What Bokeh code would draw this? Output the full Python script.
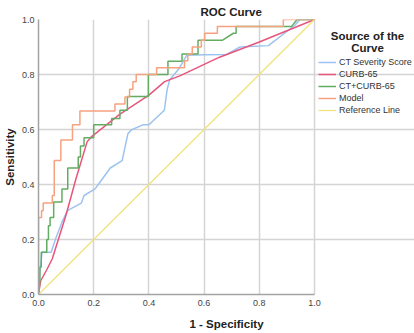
from bokeh.plotting import figure
from bokeh.models import Range1d, FixedTicker, Legend, LegendItem, Label
from bokeh.embed import file_html
from bokeh.resources import INLINE

# ---- data ----
tick_values = [0.0, 0.2, 0.4, 0.6, 0.8, 1.0]
tick_labels = ["0.0", "0.2", "0.4", "0.6", "0.8", "1.0"]

series_names = ["CT Severity Score", "CURB-65", "CT+CURB-65", "Model", "Reference Line"]

ct_fpr = [0, 0.005, 0.013, 0.046, 0.061, 0.085, 0.105, 0.155, 0.165, 0.205, 0.218, 0.260,
          0.303, 0.324, 0.336, 0.378, 0.400, 0.456, 0.466, 0.475, 0.511, 0.537, 0.600,
          0.682, 0.730, 0.833, 0.930, 0.947, 1.0]
ct_tpr = [0, 0.080, 0.154, 0.154, 0.200, 0.263, 0.305, 0.332, 0.360, 0.384, 0.402, 0.460,
          0.487, 0.585, 0.598, 0.617, 0.617, 0.670, 0.745, 0.780, 0.824, 0.870, 0.872,
          0.873, 0.900, 0.905, 0.980, 1.0, 1.0]

curb_fpr = [0, 0.008, 0.030, 0.050, 0.100, 0.135, 0.176, 0.190, 0.294, 0.400, 0.457,
            0.512, 0.656, 0.800, 1.0]
curb_tpr = [0, 0.050, 0.090, 0.130, 0.290, 0.418, 0.555, 0.572, 0.655, 0.725, 0.774,
            0.795, 0.863, 0.918, 1.0]

combo_fpr = [0, 0.005, 0.005, 0.010, 0.010, 0.030, 0.030, 0.036, 0.036, 0.042, 0.042,
             0.055, 0.055, 0.085, 0.085, 0.106, 0.106, 0.144, 0.144, 0.152, 0.152,
             0.165, 0.165, 0.200, 0.200, 0.265, 0.265, 0.295, 0.295, 0.322, 0.322,
             0.398, 0.398, 0.469, 0.469, 0.520, 0.520, 0.578, 0.578, 0.667, 0.706,
             0.716, 0.716, 0.917, 0.937, 1.0]
combo_tpr = [0, 0.050, 0.100, 0.100, 0.154, 0.154, 0.200, 0.200, 0.250, 0.250, 0.280,
             0.280, 0.336, 0.336, 0.384, 0.384, 0.460, 0.460, 0.500, 0.500, 0.540,
             0.540, 0.570, 0.570, 0.617, 0.617, 0.640, 0.640, 0.670, 0.670, 0.720,
             0.720, 0.800, 0.800, 0.848, 0.848, 0.875, 0.875, 0.925, 0.925, 0.950,
             0.950, 0.975, 0.975, 1.0, 1.0]

model_fpr = [0, 0, 0.011, 0.011, 0.017, 0.017, 0.050, 0.050, 0.057, 0.057, 0.081, 0.081,
             0.123, 0.123, 0.150, 0.150, 0.277, 0.277, 0.313, 0.313, 0.330, 0.330,
             0.342, 0.342, 0.354, 0.354, 0.428, 0.428, 0.529, 0.529, 0.541, 0.541,
             0.557, 0.557, 0.590, 0.590, 0.602, 0.602, 0.648, 0.648, 0.887, 0.887, 1.0]
model_tpr = [0, 0.280, 0.280, 0.305, 0.305, 0.333, 0.333, 0.360, 0.360, 0.487, 0.487,
             0.562, 0.562, 0.617, 0.617, 0.667, 0.667, 0.693, 0.693, 0.718, 0.718,
             0.746, 0.746, 0.774, 0.774, 0.800, 0.800, 0.825, 0.825, 0.850, 0.850,
             0.875, 0.875, 0.900, 0.900, 0.925, 0.925, 0.950, 0.950, 0.975, 0.975,
             1.0, 1.0]

ref_fpr = [0.0, 1.0]
ref_tpr = [0.0, 1.0]

colors = ["#9cc3f0", "#e8557c", "#62ad62", "#f7a27f", "#f0e276"]

FONT = "Liberation Sans"

# frame spans the legend area too (x up to 1.362) so that annotations are not clipped;
# axis and grids are bounded to [0, 1]
p = figure(width=414, height=333, output_backend="svg", toolbar_location=None,
           title="ROC Curve", x_range=Range1d(0, 376 / 276), y_range=Range1d(0, 1),
           min_border_left=38, min_border_right=0, min_border_top=19,
           min_border_bottom=39)
p.outline_line_color = None
p.background_fill_color = "white"
p.border_fill_color = "white"

p.title.align = "left"
p.title.offset = 162
p.title.standoff = 4
p.title.text_font = FONT
p.title.text_font_style = "bold"
p.title.text_font_size = "11.5px"
p.title.text_color = "#222222"

for ax in (p.xaxis[0], p.yaxis[0]):
    ax.ticker = FixedTicker(ticks=tick_values)
    ax.bounds = (0, 1)
    ax.major_label_overrides = {v: s for v, s in zip(tick_values, tick_labels)}
    ax.major_tick_in = 0
    ax.major_tick_out = 0
    ax.minor_tick_in = 0
    ax.minor_tick_out = 0
    ax.axis_line_color = "#a3a3a3"
    ax.axis_line_width = 1.5
    ax.major_label_text_font = FONT
    ax.major_label_text_font_size = "9px"
    ax.major_label_text_color = "#444444"
    ax.axis_label_text_font = FONT
    ax.axis_label_text_font_style = "bold"
    ax.axis_label_text_font_size = "11.5px"
    ax.axis_label_text_color = "#222222"

p.xaxis.axis_label = "1 - Specificity"
p.yaxis.axis_label = "Sensitivity"
p.xaxis.major_label_standoff = 5
p.yaxis.major_label_standoff = 4
p.xaxis.axis_label_standoff = 9
p.yaxis.axis_label_standoff = 3

for g in (p.xgrid[0], p.ygrid[0]):
    g.ticker = FixedTicker(ticks=tick_values)
    g.bounds = (0, 1)
    g.grid_line_color = "#d4d4d4"
    g.grid_line_width = 1.5

r_ct = p.line(ct_fpr, ct_tpr, line_color=colors[0], line_width=1.5)
r_curb = p.line(curb_fpr, curb_tpr, line_color=colors[1], line_width=1.5)
r_combo = p.line(combo_fpr, combo_tpr, line_color=colors[2], line_width=1.5)
r_model = p.line(model_fpr, model_tpr, line_color=colors[3], line_width=1.5)
r_ref = p.line(ref_fpr, ref_tpr, line_color=colors[4], line_width=1.2)

legend = Legend(items=[LegendItem(label=n, renderers=[r]) for n, r in
                       zip(series_names, [r_ct, r_curb, r_combo, r_model, r_ref])],
                location=(280, 178))
legend.padding = 0
legend.margin = 0
legend.spacing = 0
legend.glyph_width = 18
legend.glyph_height = 12
legend.label_height = 12
legend.label_standoff = 3
legend.label_text_font = FONT
legend.label_text_font_size = "9px"
legend.label_text_color = "#333333"
legend.border_line_color = None
legend.background_fill_alpha = 0
p.add_layout(legend)

lt1 = Label(x=329, y=258.3, x_units="screen", y_units="screen", text="Source of the",
            text_align="center", text_baseline="alphabetic", text_font=FONT,
            text_font_style="bold", text_font_size="11.5px", text_color="#222222")
lt2 = Label(x=329, y=246.7, x_units="screen", y_units="screen", text="Curve",
            text_align="center", text_baseline="alphabetic", text_font=FONT,
            text_font_style="bold", text_font_size="11.5px", text_color="#222222")
p.add_layout(lt1)
p.add_layout(lt2)

open("out.html", "w").write(file_html(p, INLINE))
